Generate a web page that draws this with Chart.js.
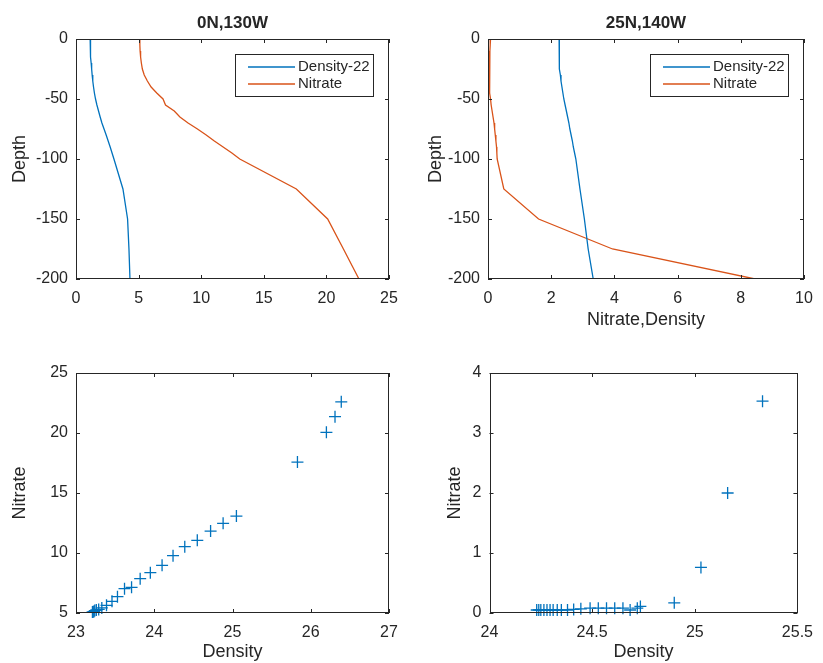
<!DOCTYPE html>
<html lang="en">
<head>
<meta charset="UTF-8">
<title>Nitrate and density profiles</title>
<script src="https://cdn.jsdelivr.net/npm/chart.js"></script>
<style>
    * { margin: 0; padding: 0; box-sizing: border-box; }
    body {
        width: 823px;
        height: 663px;
        background: #fff;
        position: relative;
        overflow: hidden;
    }
    .panel { position: absolute; }
    #pTL { left: 0;     top: 0;     width: 411px; height: 331px; }
    #pTR { left: 411px; top: 0;     width: 412px; height: 331px; }
    #pBL { left: 0;     top: 331px; width: 411px; height: 332px; }
    #pBR { left: 411px; top: 331px; width: 412px; height: 332px; }
</style>
</head>
<body>
<div class="panel" id="pTL"><canvas id="cTL"></canvas></div>
<div class="panel" id="pTR"><canvas id="cTR"></canvas></div>
<div class="panel" id="pBL"><canvas id="cBL"></canvas></div>
<div class="panel" id="pBR"><canvas id="cBR"></canvas></div>

<script>
// depth levels (m, negative down) used by both profile panels
const depth = [0, -5, -10, -15, -20, -25, -30, -35, -40, -45, -50, -55, -60, -65, -70, -75,
               -80, -85, -90, -95, -100, -125, -150, -175, -200];

// 0N,130W profile
const eqDensity22 = [1.13, 1.14, 1.16, 1.18, 1.21, 1.25, 1.29, 1.34, 1.40, 1.47, 1.56, 1.67, 1.80,
                     1.93, 2.07, 2.24, 2.41, 2.57, 2.73, 2.88, 3.03, 3.75, 4.12, 4.23, 4.31];
const eqNitrate = [5.08, 5.10, 5.12, 5.16, 5.22, 5.30, 5.45, 5.70, 6.00, 6.45, 6.95, 7.15, 7.85,
                   8.30, 8.95, 9.70, 10.40, 11.05, 11.75, 12.45, 13.08, 17.60, 20.10, 21.36, 22.60];

// 25N,140W profile
const stnDensity22 = [2.25, 2.25, 2.25, 2.26, 2.26, 2.27, 2.29, 2.31, 2.34, 2.37, 2.40, 2.44, 2.48,
                      2.52, 2.56, 2.59, 2.63, 2.67, 2.70, 2.74, 2.78, 2.91, 3.05, 3.17, 3.33];
const stnNitrate = [0.08, 0.07, 0.06, 0.05, 0.05, 0.05, 0.05, 0.05, 0.05, 0.06, 0.08, 0.10, 0.13,
                    0.16, 0.19, 0.21, 0.23, 0.25, 0.27, 0.28, 0.29, 0.50, 1.60, 3.94, 8.45];

// nitrate vs density scatter, 0N,130W
const eqScatterDensity = [23.21, 23.22, 23.23, 23.24, 23.26, 23.29, 23.33, 23.39, 23.46, 23.53, 23.62,
                          23.71, 23.82, 23.95, 24.10, 24.24, 24.39, 24.55, 24.72, 24.88, 25.05,
                          25.83, 26.20, 26.31, 26.39];
const eqScatterNitrate = [5.08, 5.10, 5.12, 5.20, 5.25, 5.30, 5.42, 5.64, 5.97, 6.36, 7.03, 7.14,
                          7.86, 8.36, 8.97, 9.78, 10.53, 11.06, 11.83, 12.47, 13.08, 17.58, 20.06,
                          21.36, 22.60];

// nitrate vs density scatter, 25N,140W
const stnScatterDensity = [24.23, 24.24, 24.25, 24.265, 24.28, 24.295, 24.31, 24.33, 24.35, 24.38,
                           24.41, 24.445, 24.49, 24.53, 24.57, 24.61, 24.65, 24.685, 24.72, 24.735,
                           24.90, 25.03, 25.16, 25.33];
const stnScatterNitrate = [0.05, 0.05, 0.05, 0.05, 0.05, 0.05, 0.05, 0.05, 0.05, 0.05, 0.06, 0.07,
                           0.08, 0.08, 0.08, 0.08, 0.08, 0.05, 0.08, 0.11, 0.17, 0.76, 2.00, 3.53];

// axis limits: [min, max, step]
const depthAxis = [-200, 0, 50];
const eqProfileAxis = [0, 25, 5];
const stnProfileAxis = [0, 10, 2];
const eqDensityAxis = [23, 27, 1];
const eqNitrateAxis = [5, 25, 5];
const stnDensityAxis = [24, 25.5, 0.5];
const stnNitrateAxis = [0, 4, 1];

const FONT = "'Liberation Sans', Arial, Helvetica, sans-serif";
const BLUE = '#0072BD';
const ORANGE = '#D95319';
const INK = '#262626';

Chart.defaults.font.family = FONT;
Chart.defaults.color = INK;
Chart.defaults.animation = false;

const pts = (xs, ys) => xs.map((v, i) => ({ x: v, y: ys[i] }));

// box + inward tick marks on all four sides
const frame = {
    id: 'frame',
    afterDatasetsDraw(chart) {
        const { ctx, chartArea: a, scales } = chart;
        ctx.save();
        ctx.strokeStyle = INK;
        ctx.lineWidth = 1;
        ctx.strokeRect(Math.round(a.left) + 0.5, Math.round(a.top) + 0.5,
                       Math.round(a.width) - 1, Math.round(a.height) - 1);
        ctx.beginPath();
        scales.x.ticks.forEach(t => {
            const px = Math.round(scales.x.getPixelForValue(t.value)) + 0.5;
            ctx.moveTo(px, a.bottom); ctx.lineTo(px, a.bottom - 4);
            ctx.moveTo(px, a.top); ctx.lineTo(px, a.top + 4);
        });
        scales.y.ticks.forEach(t => {
            const py = Math.round(scales.y.getPixelForValue(t.value)) + 0.5;
            ctx.moveTo(a.left, py); ctx.lineTo(a.left + 4, py);
            ctx.moveTo(a.right, py); ctx.lineTo(a.right - 4, py);
        });
        ctx.stroke();
        ctx.restore();
    }
};

// MATLAB style legend box in the upper right corner
const boxLegend = {
    id: 'boxLegend',
    afterDraw(chart, args, o) {
        if (!o.show) return;
        const { ctx, chartArea: a } = chart;
        const x0 = Math.round(a.right - o.right - o.width);
        const y0 = Math.round(a.top + o.top);
        ctx.save();
        ctx.fillStyle = '#fff';
        ctx.fillRect(x0, y0, o.width, o.height);
        ctx.strokeStyle = INK;
        ctx.lineWidth = 1;
        ctx.strokeRect(x0 + 0.5, y0 + 0.5, o.width, o.height);
        ctx.font = '15px ' + FONT;
        ctx.textBaseline = 'middle';
        chart.data.datasets.forEach((ds, i) => {
            const yy = y0 + o.rowTop + i * o.rowGap;
            ctx.strokeStyle = ds.borderColor;
            ctx.lineWidth = ds.borderWidth;
            ctx.beginPath();
            ctx.moveTo(x0 + o.lineFrom, yy);
            ctx.lineTo(x0 + o.lineTo, yy);
            ctx.stroke();
            ctx.fillStyle = INK;
            ctx.fillText(ds.label, x0 + o.textX, yy);
        });
        ctx.restore();
    }
};

function axis(lim, o) {
    return {
        type: 'linear',
        min: lim[0],
        max: lim[1],
        ticks: { stepSize: lim[2], padding: o.tickPad, font: { size: 16 }, color: INK,
                 maxRotation: 0, autoSkip: false,
                 callback: v => String(Math.round(v * 100) / 100) },
        grid: { display: false, drawTicks: false },
        border: { display: false },
        title: o.title
            ? { display: true, text: o.title, font: { size: 18 }, color: INK, padding: o.titlePad }
            : { display: false },
        afterFit: o.fit
    };
}

function profile(id, title, xLim, dens, nitr, o) {
    new Chart(document.getElementById(id), {
        type: 'scatter',
        data: {
            datasets: [
                { label: 'Density-22', data: pts(dens, depth), showLine: true, pointRadius: 0,
                  borderColor: BLUE, borderWidth: 1.3 },
                { label: 'Nitrate', data: pts(nitr, depth), showLine: true, pointRadius: 0,
                  borderColor: ORANGE, borderWidth: 1.3 }
            ]
        },
        options: {
            responsive: true,
            maintainAspectRatio: false,
            layout: { padding: { left: 0, right: o.right, top: 0, bottom: 0 } },
            scales: {
                x: axis(xLim, { tickPad: 10, title: o.xTitle, titlePad: { top: 0, bottom: 0 },
                                fit: s => { s.height = 52; } }),
                y: axis(depthAxis, { tickPad: 8, title: 'Depth', titlePad: { top: o.yTitlePad, bottom: 0 },
                                     fit: s => { s.width = o.yWidth; } })
            },
            plugins: {
                legend: { display: false },
                tooltip: { enabled: false },
                title: { display: true, text: title, fullSize: false, color: INK,
                         font: { size: 17, weight: 'bold' }, padding: { top: 13, bottom: 5.6 } },
                boxLegend: { show: true, width: 138, height: 42, right: 16, top: 15,
                             rowTop: 13, rowGap: 17, lineFrom: 13, lineTo: 60, textX: 63 }
            }
        },
        plugins: [frame, boxLegend]
    });
}

function scatter(id, xLim, yLim, xs, ys, o) {
    new Chart(document.getElementById(id), {
        type: 'scatter',
        data: {
            datasets: [{ label: 'Nitrate', data: pts(xs, ys), pointStyle: 'cross', pointRadius: 6,
                         borderColor: BLUE, borderWidth: 1.3, clip: false }]
        },
        options: {
            responsive: true,
            maintainAspectRatio: false,
            layout: { padding: { left: 0, right: o.right, top: 42, bottom: 0 } },
            scales: {
                x: axis(xLim, { tickPad: 10, title: 'Density', titlePad: { top: 0, bottom: 0 },
                                fit: s => { s.height = 50; } }),
                y: axis(yLim, { tickPad: 8, title: 'Nitrate', titlePad: { top: o.yTitlePad, bottom: 0 },
                                fit: s => { s.width = o.yWidth; } })
            },
            plugins: { legend: { display: false }, tooltip: { enabled: false } }
        },
        plugins: [frame]
    });
}

profile('cTL', '0N,130W', eqProfileAxis, eqDensity22, eqNitrate,
        { right: 22, yWidth: 76, yTitlePad: 9, xTitle: null });
profile('cTR', '25N,140W', stnProfileAxis, stnDensity22, stnNitrate,
        { right: 19, yWidth: 77, yTitlePad: 14, xTitle: 'Nitrate,Density' });
scatter('cBL', eqDensityAxis, eqNitrateAxis, eqScatterDensity, eqScatterNitrate,
        { right: 22, yWidth: 76, yTitlePad: 9 });
scatter('cBR', stnDensityAxis, stnNitrateAxis, stnScatterDensity, stnScatterNitrate,
        { right: 20, yWidth: 78.5, yTitlePad: 33 });
</script>
</body>
</html>
